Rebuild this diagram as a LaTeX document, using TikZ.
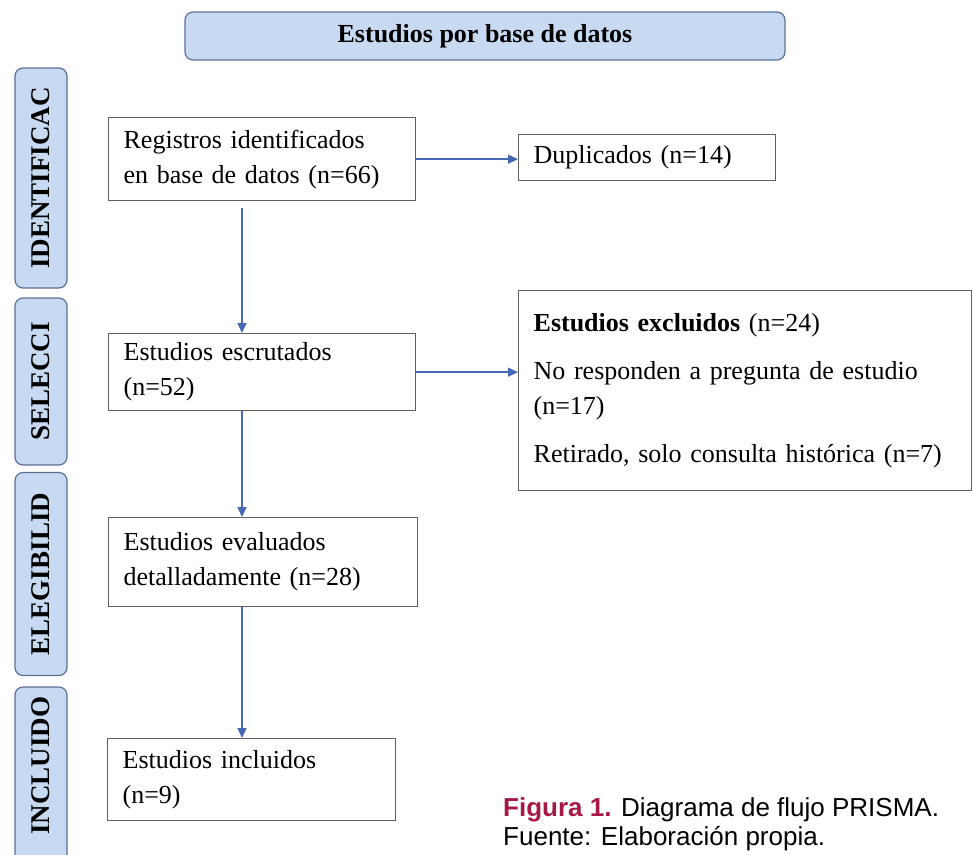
\documentclass[tikz,border=0pt]{standalone}
\usepackage{fontspec}
\setmainfont{Liberation Serif}
\newfontfamily\captionfont{Liberation Sans}
\usetikzlibrary{arrows.meta}
\definecolor{azulclaro}{RGB}{199,218,241}
\definecolor{bordeazul}{RGB}{92,112,150}
\definecolor{azulflecha}{RGB}{70,104,180}
\definecolor{gris}{RGB}{95,95,95}
\definecolor{granate}{RGB}{165,25,68}

\begin{document}
\begin{tikzpicture}[x=1pt,y=-1pt,
    fase/.style={draw=bordeazul,fill=azulclaro,line width=1.2pt,rounded corners=8pt,rotate=90,minimum height=52pt,inner sep=0pt,font=\bfseries\fontsize{27}{27}\selectfont},
    caja/.style={draw=gris,line width=1.3pt,anchor=north west,inner xsep=15pt,inner ysep=0pt,align=left,font=\fontsize{26}{35}\selectfont},
    flecha/.style={draw=azulflecha,line width=1.4pt,-{Triangle[length=10pt,width=9pt]}}]
    \useasboundingbox (0,0) rectangle (973,854);
    \clip (0,0) rectangle (973,854);

    % cabecera
    \node[draw=bordeazul,fill=azulclaro,line width=1.2pt,rounded corners=8pt,minimum width=600pt,minimum height=48pt,font=\bfseries\fontsize{26}{26}\selectfont] (titulo) at (485,36) {Estudios por base de datos};

    % fases
    \node[fase,minimum width=220pt] (identif) at (41,178) {IDENTIFICAC};
    \node[fase,minimum width=167pt] (selec) at (41,381.5) {SELECCI};
    \node[fase,minimum width=203pt] (elegib) at (41,574) {ELEGIBILID};
    \node[fase,minimum width=193pt] (incl) at (41,783.5) {\hspace*{36pt}INCLUIDO};

    % cajas principales
    \node[caja,text width=277pt,minimum height=83pt] (r1) at (108,117) {Registros identificados\\en base de datos (n=66)};
    \node[caja,text width=277pt,minimum height=77pt] (r2) at (108,333) {Estudios escrutados\\(n=52)};
    \node[caja,text width=279pt,minimum height=89pt] (r3) at (108,517) {Estudios evaluados\\detalladamente (n=28)};
    \node[caja,text width=258pt,minimum height=82pt] (r4) at (107,738) {Estudios incluidos\\(n=9)};

    % cajas laterales
    \node[caja,text width=227pt,minimum height=46pt] (dup) at (518,134) {Duplicados (n=14)};
    \node[caja,text width=423pt,minimum height=200pt] (excl) at (518,290) {{\bfseries Estudios excluidos} (n=24)\\[13pt]No responden a pregunta de estudio\\(n=17)\\[13pt]Retirado, solo consulta histórica (n=7)};

    % flechas
    \coordinate (eje) at (242,0);
    \draw[flecha,shorten <=7pt] (r1.south -| eje) -- (r2.north -| eje);
    \draw[flecha] (r2.south -| eje) -- (r3.north -| eje);
    \draw[flecha] (r3.south -| eje) -- (r4.north -| eje);
    \draw[flecha] (r1.east) -- (r1.east -| dup.west);
    \draw[flecha] (r2.east) -- (r2.east -| excl.west);

    % leyenda
    \node[anchor=north west,align=left,inner sep=0pt,font=\captionfont\fontsize{26}{29}\selectfont] (leyenda) at (503,797) {\textcolor{granate}{\bfseries Figura 1.} Diagrama de flujo PRISMA.\\Fuente: Elaboración propia.};
\end{tikzpicture}
\end{document}
